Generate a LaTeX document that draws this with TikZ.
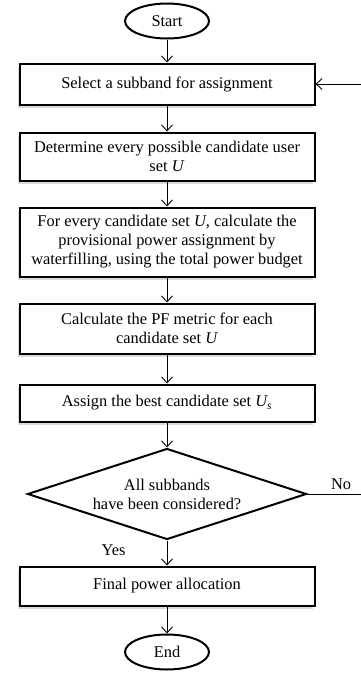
\documentclass[tikz,border=0pt]{standalone}
\usepackage{fontspec}
\setmainfont{Liberation Serif}
\usetikzlibrary{positioning,arrows.meta,shapes.geometric,shadows}

\begin{document}
\begin{tikzpicture}[
  x=1pt, y=-1pt,
  font=\fontsize{16.4pt}{19pt}\selectfont,
  box/.style={draw, line width=2pt, fill=white, align=center, minimum width=295pt, inner sep=2pt,
    drop shadow={shadow xshift=-2pt, shadow yshift=-3pt, opacity=0.3}},
  term/.style={ellipse, draw, line width=2pt, minimum width=84pt, minimum height=35pt, inner sep=0pt},
  dec/.style={diamond, draw, line width=2pt, aspect=3, align=center, minimum width=279pt, minimum height=91pt, inner sep=0pt},
  lbl/.style={inner sep=1pt},
  arr/.style={-{Straight Barb[length=6pt, width=11pt]}, line width=0.9pt}
]
\useasboundingbox (0,0) rectangle (360,675);
\node[term] (start) at (167,21) {Start};
\node[box, below=23pt of start, minimum height=41pt] (sel) {Select a subband for assignment};
\node[box, below=26pt of sel, minimum height=48pt] (cand)
  {Determine every possible candidate user\\set \textit{U}};
\node[box, below=25pt of cand, minimum height=69pt] (wf)
  {For every candidate set \textit{U}, calculate the\\provisional power assignment by\\waterfilling, using the total power budget};
\node[box, below=25pt of wf, minimum height=50pt] (pf)
  {Calculate the PF metric for each\\candidate set \textit{U}};
\node[box, below=29pt of pf, minimum height=37pt] (best)
  {Assign the best candidate set \textit{U\textsubscript{s}}};
\node[dec, below=25pt of best] (done) {All subbands\\have been considered?};
\node[box, below=25pt of done, minimum height=39pt] (fin) {Final power allocation};
\node[term, below=27pt of fin] (end) {End};

\draw[arr] (start) -- (sel);
\draw[arr] (sel) -- (cand);
\draw[arr] (cand) -- (wf);
\draw[arr] (wf) -- (pf);
\draw[arr] (pf) -- (best);
\draw[arr] (best) -- (done);
\draw[arr] (done) -- node[lbl, pos=0.4, left=40pt] {Yes} (fin);
\draw[arr] (fin) -- (end);
\draw[arr] (done.east) -- node[lbl, pos=0.6, above=3pt] {No} ++(56,0) |- (sel.east);
\end{tikzpicture}
\end{document}
